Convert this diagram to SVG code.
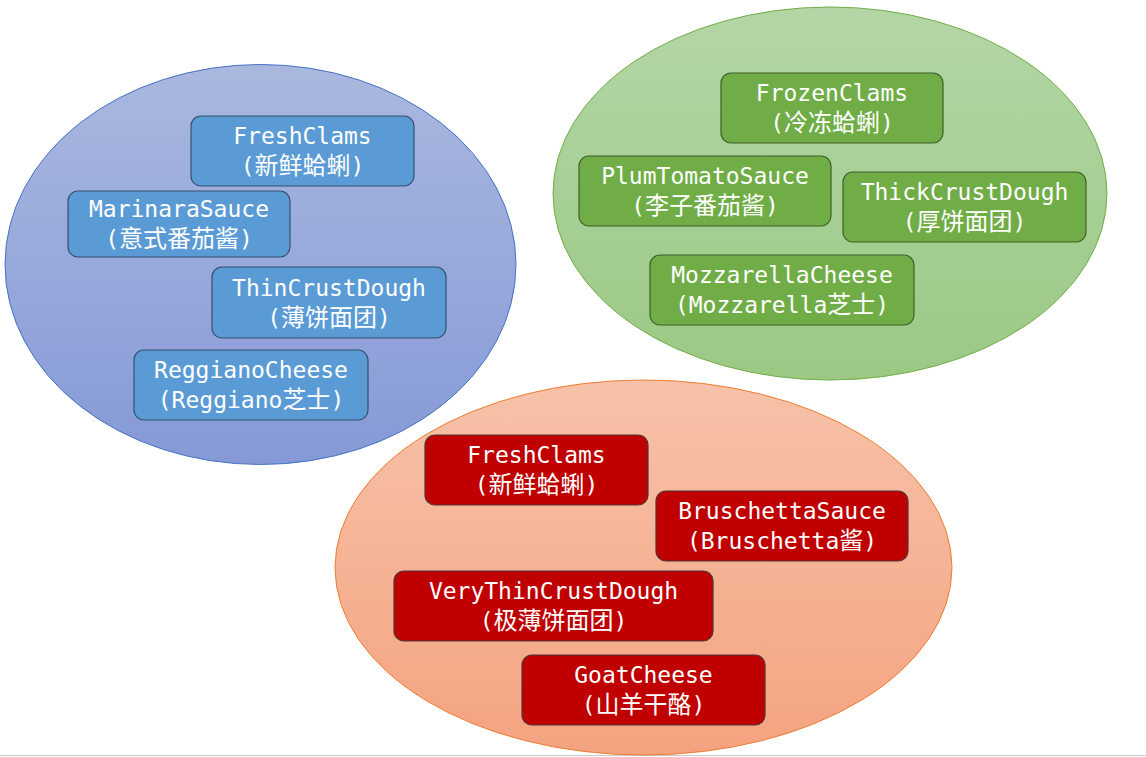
<svg xmlns="http://www.w3.org/2000/svg" width="1146" height="757" viewBox="0 0 1146 757">
<style>
  .t { font-family: "DejaVu Sans Mono", "Noto Sans CJK SC", monospace; font-size: 23px; fill: #FFFFFF; text-anchor: middle; }
  .c { font-family: "Noto Sans CJK SC", sans-serif; font-size: 24px; }
  .bb { fill: #5B9BD5; stroke: #34506E; stroke-width: 1.2; }
  .gb { fill: #70AD47; stroke: #3E5F29; stroke-width: 1.2; }
  .rb { fill: #C00000; stroke: #4E3434; stroke-width: 1.2; }
</style>
<defs>
  <linearGradient id="gBlue" x1="0" y1="0" x2="0" y2="1">
    <stop offset="0" stop-color="#AAB8DF"/>
    <stop offset="1" stop-color="#8599D6"/>
  </linearGradient>
  <linearGradient id="gGreen" x1="0" y1="0" x2="0" y2="1">
    <stop offset="0" stop-color="#B4D6A6"/>
    <stop offset="1" stop-color="#9BC984"/>
  </linearGradient>
  <linearGradient id="gOrange" x1="0" y1="0" x2="0" y2="1">
    <stop offset="0" stop-color="#F7C2A9"/>
    <stop offset="1" stop-color="#F4A380"/>
  </linearGradient>
</defs>
<rect x="0" y="0" width="1146" height="757" fill="#FFFFFF"/>
<line x1="0" y1="755.5" x2="1146" y2="755.5" stroke="#C8C8C8" stroke-width="1"/>

<g id="group-blue">
  <ellipse cx="260.5" cy="264.5" rx="255.5" ry="200" fill="url(#gBlue)" stroke="#4472C4" stroke-width="1"/>
</g>
<g id="group-green">
  <ellipse cx="830" cy="193.5" rx="277" ry="186.5" fill="url(#gGreen)" stroke="#70AD47" stroke-width="1"/>
</g>
<g id="group-orange">
  <ellipse cx="643.5" cy="567.5" rx="308.5" ry="187.5" fill="url(#gOrange)" stroke="#ED7D31" stroke-width="1"/>
</g>

<g id="connectors"></g>

<g id="blue-freshclams">
  <rect class="bb" x="191" y="116" width="223" height="70" rx="10"/>
  <text class="t" x="302.5" y="144">FreshClams<tspan x="302.5" dy="30">(<tspan class="c">新鲜蛤蜊</tspan>)</tspan></text>
</g>
<g id="blue-marinarasauce">
  <rect class="bb" x="68" y="191" width="222" height="66" rx="10"/>
  <text class="t" x="179" y="217">MarinaraSauce<tspan x="179" dy="30">(<tspan class="c">意式番茄酱</tspan>)</tspan></text>
</g>
<g id="blue-thincrustdough">
  <rect class="bb" x="212" y="267" width="234" height="71" rx="10"/>
  <text class="t" x="329" y="295.5">ThinCrustDough<tspan x="329" dy="30">(<tspan class="c">薄饼面团</tspan>)</tspan></text>
</g>
<g id="blue-reggianocheese">
  <rect class="bb" x="134" y="350" width="234" height="70" rx="10"/>
  <text class="t" x="251" y="378">ReggianoCheese<tspan x="251" dy="30">(Reggiano<tspan class="c">芝士</tspan>)</tspan></text>
</g>

<g id="green-frozenclams">
  <rect class="gb" x="721" y="73" width="222" height="70" rx="10"/>
  <text class="t" x="832" y="101">FrozenClams<tspan x="832" dy="30">(<tspan class="c">冷冻蛤蜊</tspan>)</tspan></text>
</g>
<g id="green-plumtomatosauce">
  <rect class="gb" x="579" y="156" width="252" height="70" rx="10"/>
  <text class="t" x="705" y="184">PlumTomatoSauce<tspan x="705" dy="30">(<tspan class="c">李子番茄酱</tspan>)</tspan></text>
</g>
<g id="green-thickcrustdough">
  <rect class="gb" x="843" y="172" width="243" height="70" rx="10"/>
  <text class="t" x="964.5" y="200">ThickCrustDough<tspan x="964.5" dy="30">(<tspan class="c">厚饼面团</tspan>)</tspan></text>
</g>
<g id="green-mozzarellacheese">
  <rect class="gb" x="650" y="255" width="264" height="70" rx="10"/>
  <text class="t" x="782" y="283">MozzarellaCheese<tspan x="782" dy="30">(Mozzarella<tspan class="c">芝士</tspan>)</tspan></text>
</g>

<g id="red-freshclams">
  <rect class="rb" x="425" y="435" width="223" height="70" rx="10"/>
  <text class="t" x="536.5" y="463">FreshClams<tspan x="536.5" dy="30">(<tspan class="c">新鲜蛤蜊</tspan>)</tspan></text>
</g>
<g id="red-bruschettasauce">
  <rect class="rb" x="656" y="491" width="252" height="70" rx="10"/>
  <text class="t" x="782" y="519">BruschettaSauce<tspan x="782" dy="30">(Bruschetta<tspan class="c">酱</tspan>)</tspan></text>
</g>
<g id="red-verythincrustdough">
  <rect class="rb" x="394" y="571" width="319" height="70" rx="10"/>
  <text class="t" x="553.5" y="599">VeryThinCrustDough<tspan x="553.5" dy="30">(<tspan class="c">极薄饼面团</tspan>)</tspan></text>
</g>
<g id="red-goatcheese">
  <rect class="rb" x="522" y="655" width="243" height="70" rx="10"/>
  <text class="t" x="643.5" y="683">GoatCheese<tspan x="643.5" dy="30">(<tspan class="c">山羊干酪</tspan>)</tspan></text>
</g>
</svg>
